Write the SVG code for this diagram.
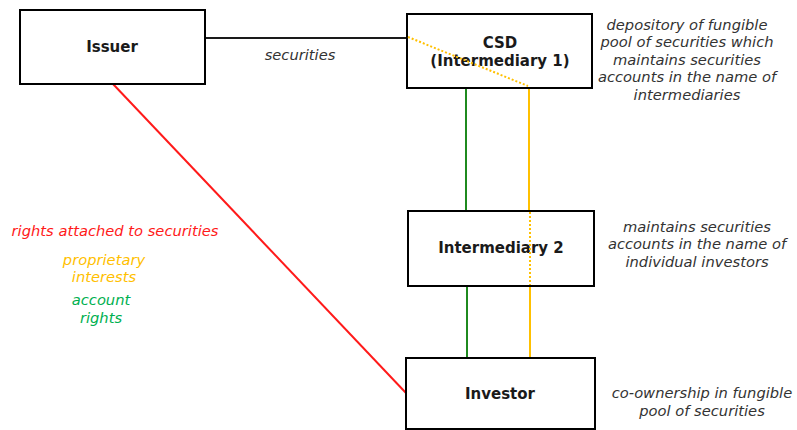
<svg xmlns="http://www.w3.org/2000/svg" width="797" height="430" viewBox="0 0 797 430">
<style>
.box{fill:#fff;stroke:#000;stroke-width:2}
.lbl{font-family:"DejaVu Sans",Verdana,sans-serif;font-weight:bold;font-size:15px;fill:#1a1a1a;text-anchor:middle}
.note{font-family:"DejaVu Sans",Verdana,sans-serif;font-style:italic;font-size:14.7px;fill:#333;text-anchor:middle}
.y{stroke:#ffc000;stroke-width:2;fill:none}
.g{stroke:#1f8a1f;stroke-width:2;fill:none}
</style>
<rect width="797" height="430" fill="#fff"/>
<g id="connectors">
<line x1="205" y1="38" x2="407" y2="38" stroke="#1a1a1a" stroke-width="2"/>
<line x1="113" y1="84" x2="406" y2="393" stroke="#ff1a1a" stroke-width="2"/>
<line class="g" x1="466" y1="88" x2="466" y2="211"/>
<line class="g" x1="467" y1="286" x2="467" y2="358"/>
<line class="y" x1="529" y1="88" x2="529" y2="211"/>
<line class="y" x1="530" y1="286" x2="530" y2="358"/>
</g>
<g id="issuer">
<rect class="box" x="20" y="10" width="185" height="74"/>
<text class="lbl" x="112" y="52">Issuer</text>
</g>
<g id="csd">
<rect class="box" x="407" y="14" width="185" height="74"/>
<text class="lbl" x="500" y="48">CSD</text>
<text class="lbl" x="500" y="66">(Intermediary 1)</text>
<line class="y" x1="408" y1="37" x2="528" y2="86" stroke-dasharray="2,2"/>
</g>
<g id="intermediary2">
<rect class="box" x="408" y="211" width="186" height="75"/>
<text class="lbl" x="501" y="253">Intermediary 2</text>
<line class="y" x1="530" y1="212" x2="530" y2="285" stroke-dasharray="2,2"/>
</g>
<g id="investor">
<rect class="box" x="406" y="358" width="189" height="71"/>
<text class="lbl" x="500" y="399">Investor</text>
</g>
<g id="labels">
<text class="note" x="300" y="60">securities</text>
<text class="note" x="687" y="30">depository of fungible</text>
<text class="note" x="687" y="47">pool of securities which</text>
<text class="note" x="687" y="65">maintains securities</text>
<text class="note" x="687" y="82">accounts in the name of</text>
<text class="note" x="687" y="100">intermediaries</text>
<text class="note" x="697" y="232">maintains securities</text>
<text class="note" x="697" y="249">accounts in the name of</text>
<text class="note" x="697" y="267">individual investors</text>
<text class="note" x="702" y="398">co-ownership in fungible</text>
<text class="note" x="702" y="416">pool of securities</text>
<text class="note" x="115" y="236" style="fill:#ff1a1a">rights attached to securities</text>
<text class="note" x="104" y="265" style="fill:#ffc000">proprietary</text>
<text class="note" x="104" y="282" style="fill:#ffc000">interests</text>
<text class="note" x="101" y="305" style="fill:#00b050">account</text>
<text class="note" x="101" y="323" style="fill:#00b050">rights</text>
</g>
</svg>
